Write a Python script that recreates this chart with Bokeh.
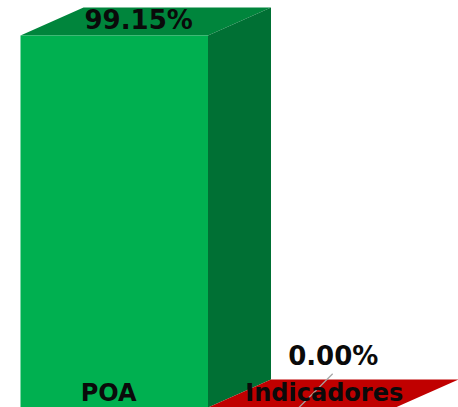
from bokeh.plotting import figure
from bokeh.embed import file_html
from bokeh.resources import INLINE
from bokeh.core.properties import value

categories = ["POA", "Indicadores"]
values = [99.15, 0.00]
labels = ["99.15%", "0.00%"]
front_colors = ["#00B050", "#C00000"]
top_colors = ["#00853C", "#C00000"]
side_colors = ["#007034", "#C00000"]

W, H = 458, 407
px_x = 187.5
px_y = 372 / 99.15
dx = 63 / px_x
dy = 28 / px_y
x0 = -0.5 - 20 / px_x

p = figure(width=W, height=H, output_backend="svg", toolbar_location=None,
           x_range=(x0, x0 + W / px_x), y_range=(0, H / px_y),
           min_border=0, min_border_left=0, min_border_right=0,
           min_border_top=0, min_border_bottom=0)
p.axis.visible = False
p.grid.visible = False
p.outline_line_color = None
p.background_fill_color = "#FFFFFF"
p.border_fill_color = "#FFFFFF"

for i, v in enumerate(values):
    l, r = i - 0.5, i + 0.5
    p.patch([l, r, r + dx, l + dx], [v, v, v + dy, v + dy],
            fill_color=top_colors[i], line_color=None)
    if v > 0:
        p.patch([r, r + dx, r + dx, r], [v, v + dy, dy, 0],
                fill_color=side_colors[i], line_color=None)
        p.quad(left=[l], right=[r], bottom=[0], top=[v],
               fill_color=front_colors[i], line_color=None)

# leader line of the second label
p.segment(x0=[1 - 0.015], y0=[0], x1=[1 + 0.165], y1=[9],
          line_color="#A6A6A6", line_width=1.2)

font = value("DejaVu Sans")
p.text(x=[0 + 0.13], y=[values[0] + 4.0], text=[labels[0]], text_font=font,
       text_font_size="26px", text_font_style="bold", text_color="#0A0A0A",
       text_align="center", text_baseline="middle")
p.text(x=[1 + 0.168], y=[values[1] + 13.6], text=[labels[1]], text_font=font,
       text_font_size="26px", text_font_style="bold", text_color="#0A0A0A",
       text_align="center", text_baseline="middle")
p.text(x=[0 - 0.03, 1 + 0.12], y=[3.9, 3.9], text=categories, text_font=font,
       text_font_size="24px", text_font_style="bold", text_color="#0A0A0A",
       text_align="center", text_baseline="middle")

open("out.html", "w").write(file_html(p, INLINE))
